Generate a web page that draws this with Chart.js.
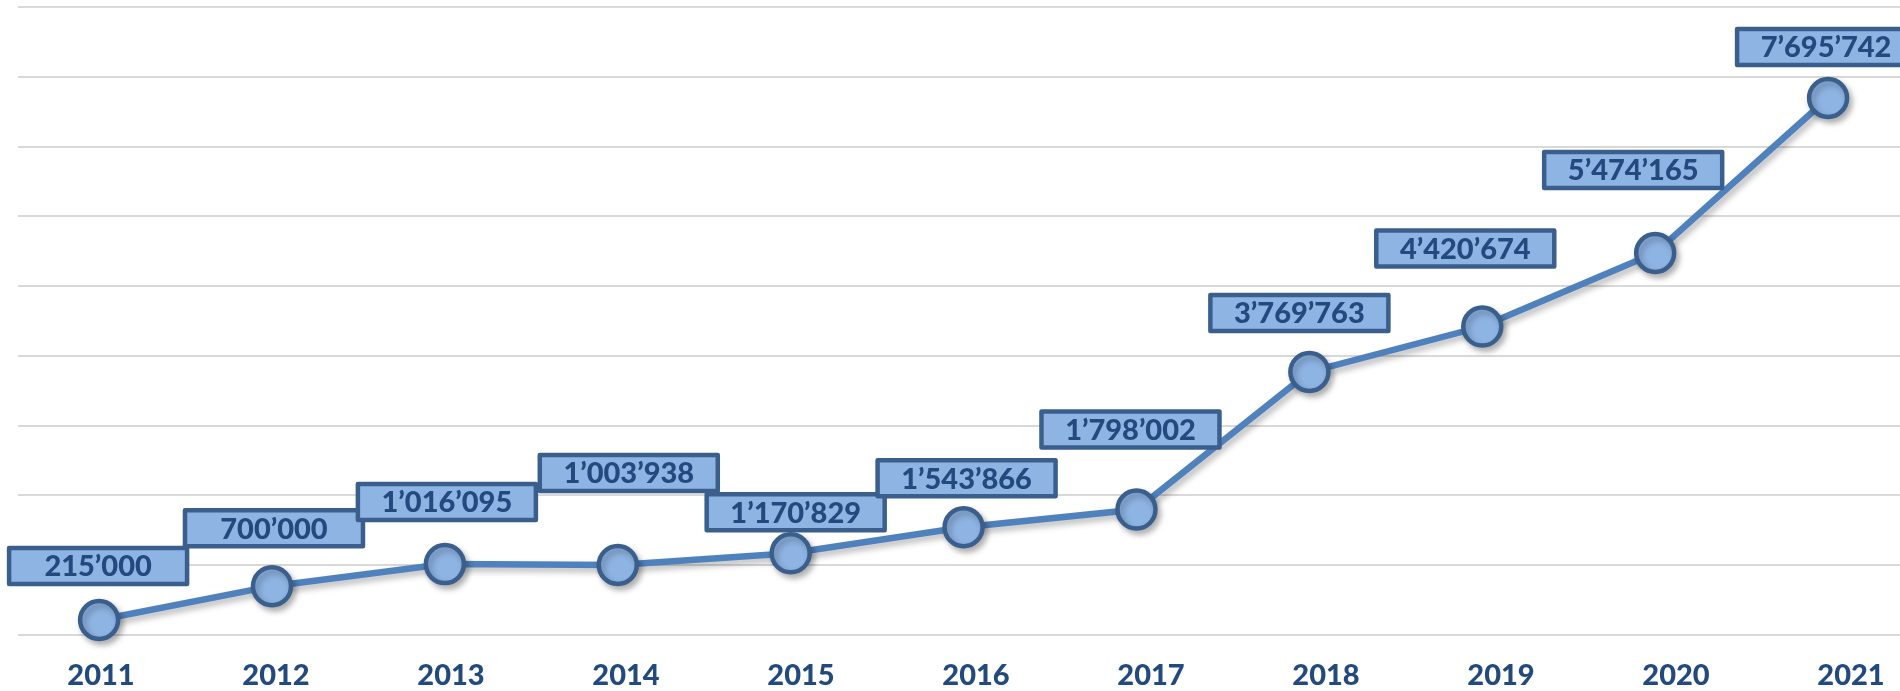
<!DOCTYPE html>
<html>
<head>
<meta charset="utf-8">
<script src="https://cdn.jsdelivr.net/npm/chart.js@4/dist/chart.umd.min.js"></script>
<style>
  html, body { margin: 0; padding: 0; background: #ffffff; }
  #wrap { width: 1900px; height: 691px; position: relative; }
</style>
</head>
<body>
<div id="wrap"><canvas id="c" width="1900" height="691"></canvas></div>
<script>
// ---- data ----
const years = [2011, 2012, 2013, 2014, 2015, 2016, 2017, 2018, 2019, 2020, 2021];
const values = [215000, 700000, 1016095, 1003938, 1170829, 1543866, 1798002, 3769763, 4420674, 5474165, 7695742];
const yTicks = [0, 1000000, 2000000, 3000000, 4000000, 5000000, 6000000, 7000000, 8000000, 9000000];

// ---- styling (label box offsets relative to each point, in px) ----
const labelOffsets = [[-1,-54],[2,-58],[2,-62],[11,-92],[5,-41],[3,-49],[-6,-80],[-10,-59],[-17,-78],[-22,-83],[-2,-51]];
const FONT = '"Lato", "Open Sans", sans-serif';
const TEXT = '#234A7E';

function fmt(v) {
  return String(v).replace(/\B(?=(\d{3})+(?!\d))/g, '\u2019');
}

const shadowPlugin = {
  id: 'lineShadow',
  beforeDatasetDraw(chart) {
    const ctx = chart.ctx;
    ctx.save();
    ctx.shadowColor = 'rgba(0,0,0,0.28)';
    ctx.shadowBlur = 6;
    ctx.shadowOffsetX = 3;
    ctx.shadowOffsetY = 4;
  },
  afterDatasetDraw(chart) {
    chart.ctx.restore();
  }
};

const labelPlugin = {
  id: 'boxLabels',
  afterDatasetsDraw(chart) {
    const ctx = chart.ctx;
    const meta = chart.getDatasetMeta(0);
    ctx.save();
    ctx.font = '900 29px ' + FONT;
    ctx.textAlign = 'center';
    ctx.textBaseline = 'middle';
    meta.data.forEach((pt, i) => {
      const off = labelOffsets[i] || [0, -55];
      const cx = pt.x + off[0];
      const cy = pt.y + off[1];
      const w = 178, h = 36;
      ctx.fillStyle = '#8EB4E3';
      ctx.strokeStyle = '#3A5F8C';
      ctx.lineWidth = 4.5;
      ctx.lineJoin = 'round';
      ctx.beginPath();
      ctx.rect(cx - w / 2, cy - h / 2, w, h);
      ctx.fill();
      ctx.stroke();
      ctx.fillStyle = TEXT;
      ctx.fillText(fmt(values[i]), cx, cy + 1);
    });
    ctx.restore();
  }
};

new Chart(document.getElementById('c'), {
  type: 'line',
  data: {
    datasets: [{
      data: years.map((y, i) => ({ x: y, y: values[i] })),
      xAxisID: 'x',
      borderColor: '#4F81BD',
      borderWidth: 6.5,
      pointRadius: 19,
      pointHoverRadius: 19,
      pointBorderWidth: 4.5,
      pointBackgroundColor: '#8EB4E3',
      pointBorderColor: '#3A5F8C',
      tension: 0,
      clip: false
    }]
  },
  options: {
    responsive: false,
    animation: false,
    events: [],
    layout: { autoPadding: false, padding: { left: 18, right: 0, top: 7, bottom: 0 } },
    plugins: { legend: { display: false }, tooltip: { enabled: false } },
    scales: {
      x: {
        type: 'linear',
        position: 'bottom',
        min: 2010.531,
        max: 2021.416,
        afterBuildTicks(scale) { scale.ticks = years.map(v => ({ value: v })); },
        afterFit(scale) { scale.height = 0; scale.paddingLeft = 0; scale.paddingRight = 0; },
        grid: { display: false, drawTicks: false, tickLength: 0 },
        border: { display: false },
        ticks: { display: false }
      },
      xLabels: {
        type: 'linear',
        position: 'bottom',
        min: 2010.526,
        max: 2021.28,
        afterBuildTicks(scale) { scale.ticks = years.map(v => ({ value: v })); },
        afterFit(scale) { scale.height = 56; scale.paddingLeft = 0; scale.paddingRight = 0; },
        grid: { display: false, drawTicks: false, tickLength: 0 },
        border: { display: false },
        ticks: {
          autoSkip: false,
          maxRotation: 0,
          padding: 23,
          color: TEXT,
          font: { family: FONT, size: 29, weight: '900', lineHeight: 1.2 },
          callback: v => String(v)
        }
      },
      y: {
        min: 0,
        max: 9000000,
        afterBuildTicks(scale) { scale.ticks = yTicks.map(v => ({ value: v })); },
        afterFit(scale) { scale.width = 0; },
        ticks: { display: false },
        grid: { color: '#D9D9D9', lineWidth: 2, drawTicks: false, tickLength: 0 },
        border: { display: false }
      }
    }
  },
  plugins: [shadowPlugin, labelPlugin]
});
</script>
</body>
</html>
